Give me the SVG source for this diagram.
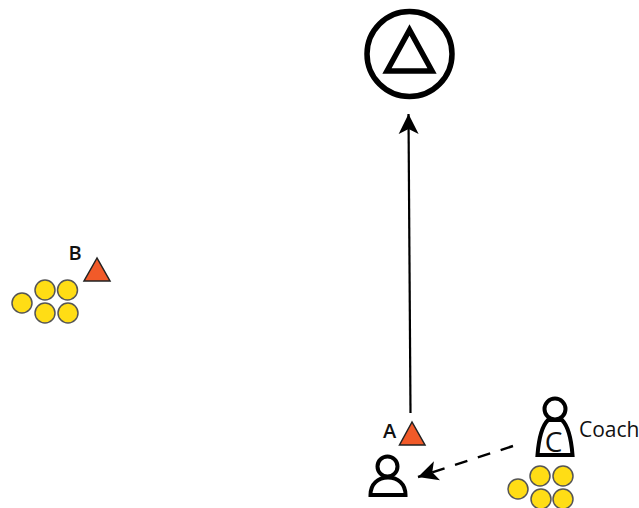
<svg xmlns="http://www.w3.org/2000/svg" width="639" height="508" viewBox="0 0 639 508">
<style>
.ln{fill:none;stroke:#000;stroke-linejoin:miter}
.token{fill:#ffdd15;stroke:#555;stroke-width:1.5}
.cone{fill:#f15a29;stroke:#222;stroke-width:1.5;stroke-linejoin:miter}
.person{fill:#fff;stroke:#000;stroke-width:4}
text{font-family:"Open Sans","Noto Sans","Liberation Sans",sans-serif;fill:#111}
</style>
<defs>
<marker id="head" markerUnits="userSpaceOnUse" markerWidth="24" markerHeight="24" refX="20" refY="10" orient="auto" viewBox="0 0 24 20">
<path d="M20 10 L0 0 L5 10 L0 20 Z" fill="#000"/>
</marker>
</defs>
<g id="connectors">
<path d="M410.500 413 L408.500 114" fill="none" stroke="#000" stroke-width="2.200" marker-end="url(#head)"/>
<path d="M513 446 L418 477" fill="none" stroke="#000" stroke-width="2.400" stroke-dasharray="13 11" marker-end="url(#head)"/>
</g>
<g id="goal">
<circle cx="409.500" cy="54" r="42.500" fill="#fff" stroke="#000" stroke-width="5.500"/>
<path d="M409.500 30 L387 71 L432 71 Z" fill="#fff" stroke="#000" stroke-width="5.500"/>
</g>
<g id="cone-b">
<path class="cone" d="M97 258 L84 281 L110 281 Z"/>
<text x="68.500" y="260" font-size="20" font-weight="600">B</text>
</g>
<g id="cone-a">
<path class="cone" d="M412 422 L399.500 445 L425 445 Z"/>
<text x="383" y="438" font-size="20" font-weight="600">A</text>
</g>
<g id="tokens-b">
<circle class="token" cx="22" cy="303" r="10"/>
<circle class="token" cx="45" cy="290" r="10"/>
<circle class="token" cx="67.500" cy="290" r="10"/>
<circle class="token" cx="45" cy="313" r="10"/>
<circle class="token" cx="68" cy="313" r="10"/>
</g>
<g id="tokens-c">
<circle class="token" cx="518" cy="489" r="10"/>
<circle class="token" cx="540" cy="476" r="10"/>
<circle class="token" cx="563" cy="476" r="10"/>
<circle class="token" cx="541" cy="499" r="10"/>
<circle class="token" cx="563" cy="499" r="10"/>
</g>
<g id="player-a">
<path class="person" d="M370.500 495 C370.500 484 378 477.500 388 477.500 C398 477.500 405.500 484 405.500 495 Z"/>
<circle class="person" cx="387.500" cy="466.500" r="10"/>
</g>
<g id="coach">
<path class="person" d="M537.500 455 C538.500 442 541 427 548 420 L562 420 C569 427 571.500 442 572.500 455 Z"/>
<circle class="person" cx="555" cy="409" r="10.500"/>
<text x="553.500" y="451.500" font-size="28" text-anchor="middle">C</text>
<text x="579" y="437" font-size="21">Coach</text>
</g>
</svg>
